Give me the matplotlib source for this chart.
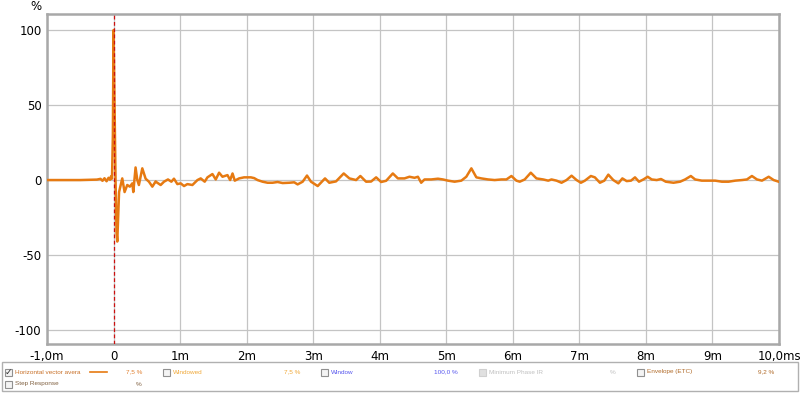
import matplotlib
matplotlib.use("Agg")
import matplotlib.pyplot as plt
from matplotlib.patches import Rectangle

# impulse response (ms, %)
time_ms = [-1.0, -0.5, -0.25, -0.196, -0.166, -0.136, -0.105, -0.075, -0.053, -0.038,
           -0.023, -0.01, 0.0, 0.012, 0.03, 0.045, 0.056, 0.065, 0.083, 0.131,
           0.166, 0.206, 0.245, 0.282, 0.297, 0.331, 0.357, 0.381, 0.432, 0.482,
           0.532, 0.583, 0.633, 0.648, 0.708, 0.758, 0.818, 0.869, 0.908, 0.959,
           1.009, 1.059, 1.110, 1.185, 1.261, 1.310, 1.370, 1.411, 1.486, 1.536,
           1.586, 1.637, 1.712, 1.752, 1.788, 1.822, 1.887, 1.962, 2.063, 2.113,
           2.164, 2.239, 2.315, 2.390, 2.465, 2.541, 2.640, 2.715, 2.766, 2.842,
           2.907, 2.967, 3.068, 3.178, 3.242, 3.343, 3.459, 3.544, 3.645, 3.709,
           3.795, 3.870, 3.946, 4.021, 4.096, 4.197, 4.273, 4.372, 4.447, 4.523,
           4.574, 4.623, 4.673, 4.774, 4.875, 4.950, 5.026, 5.125, 5.226, 5.301,
           5.377, 5.452, 5.527, 5.628, 5.727, 5.828, 5.904, 5.979, 6.054, 6.104,
           6.179, 6.270, 6.355, 6.456, 6.532, 6.581, 6.657, 6.732, 6.807, 6.883,
           6.958, 7.023, 7.083, 7.173, 7.233, 7.309, 7.375, 7.435, 7.510, 7.586,
           7.646, 7.711, 7.776, 7.836, 7.896, 7.962, 8.027, 8.087, 8.163, 8.227,
           8.298, 8.414, 8.514, 8.589, 8.675, 8.740, 8.840, 8.941, 9.041, 9.142,
           9.242, 9.342, 9.443, 9.518, 9.593, 9.669, 9.744, 9.845, 9.920, 9.995]
response_pct = [0.0, 0.0, 0.3, 0.8, -0.5, 1.2, -0.8, 1.5, 0.2, 2.5,
                1.0, 30.0, 100.0, 60.0, 0.0, -35.0, -41.0, -30.0, -8.0, 1.1,
                -8.0, -3.3, -4.4, -2.2, -8.0, 8.4, 0.0, -3.3, 7.8, 0.9,
                -1.1, -4.4, -0.9, -1.5, -3.3, -1.1, 0.4, -1.1, 0.9, -2.7,
                -2.2, -4.0, -2.7, -3.3, 0.0, 1.1, -1.1, 1.8, 4.0, 0.4,
                4.9, 2.2, 3.3, 0.0, 4.4, -0.4, 1.1, 1.8, 1.8, 1.3,
                0.0, -1.1, -1.8, -1.8, -1.3, -2.0, -1.8, -1.5, -2.9, -1.1,
                3.0, -1.1, -4.0, 1.1, -1.8, -0.9, 4.4, 1.1, 0.0, 2.7,
                -1.1, -1.0, 1.8, -1.3, -0.5, 4.4, 1.1, 1.1, 2.2, 1.5,
                2.2, -1.8, 0.4, 0.4, 0.9, 0.4, -0.4, -1.1, -0.4, 2.2,
                7.8, 1.8, 1.1, 0.4, 0.0, 0.4, 0.4, 2.7, -0.4, -1.1,
                0.4, 4.9, 1.1, 0.4, -0.4, 0.4, -0.4, -1.8, 0.0, 2.9,
                0.0, -1.8, -0.4, 2.7, 1.8, -1.8, -0.4, 3.6, 0.0, -2.2,
                1.1, -0.7, -0.4, 1.8, -1.1, 0.4, 2.2, 0.4, 0.0, 0.7,
                -1.1, -1.8, -1.1, 0.4, 2.7, 0.4, -0.4, -0.4, -0.4, -1.1,
                -1.1, -0.4, 0.0, 0.4, 2.7, 0.4, -0.4, 2.2, 0.0, -1.1]

x_ticks = list(range(-1, 11))
x_labels = ["-1,0m", "0", "1m", "2m", "3m", "4m", "5m", "6m", "7m", "8m", "9m", "10,0ms"]
y_ticks = [-100, -50, 0, 50, 100]

plt.rcParams['font.family'] = ['DejaVu Sans']

fig = plt.figure(figsize=(8.0, 3.93), dpi=100)
ax = fig.add_axes([47 / 800, 49 / 393, 732 / 800, 330 / 393])

ax.plot(time_ms, response_pct, color='#e67a12', lw=1.8, solid_joinstyle='round', zorder=3)
ax.axvline(0, color='#cc1010', lw=0.9, ls=(0, (3, 2)), zorder=4)

ax.set_xlim(-1, 10)
ax.set_ylim(-109.3, 110.7)
ax.set_xticks(x_ticks)
ax.set_xticklabels(x_labels, fontsize=8.5)
ax.set_yticks(y_ticks)
ax.set_yticklabels([str(v) for v in y_ticks], fontsize=8.5)
ax.tick_params(length=0, pad=4)
ax.grid(True, color='#c4c4c4', lw=0.9)
ax.set_axisbelow(True)
for s in ax.spines.values():
    s.set_color('#a8a8a8')
    s.set_linewidth(1.8)
fig.text(36 / 800, 1 - 6 / 393, "%", fontsize=8.5, ha='center', va='center')

# legend panel
fig.patches.append(Rectangle((2 / 800, 2 / 393), 796 / 800, 29 / 393, transform=fig.transFigure,
                             fc='white', ec='#b0b0b0', lw=1.0))

LEG_FONT = dict(fontsize=4.6, family=['Liberation Sans', 'DejaVu Sans'], va='center')

def item(x, y, label, color, checked=False, disabled=False):
    ec = '#d0d0d0' if disabled else '#909090'
    fc = '#e0e0e0' if disabled else '#f4f4f4'
    fig.patches.append(Rectangle((x / 800, 1 - (y + 3.5) / 393), 7 / 800, 7 / 393,
                                 transform=fig.transFigure, fc=fc, ec=ec, lw=0.8))
    if checked:
        fig.text((x + 3.5) / 800, 1 - y / 393, "\u2713", fontsize=6.5, ha='center', va='center',
                 color='#303030')
    fig.text((x + 10) / 800, 1 - y / 393, label, color=color, **LEG_FONT)

def value(x, y, txt, color):
    fig.text(x / 800, 1 - y / 393, txt, color=color, ha='right', **LEG_FONT)

item(5, 372, "Horizontal vector avera", '#c87028', checked=True)
fig.add_artist(plt.Line2D([90 / 800, 107 / 800], [1 - 372 / 393] * 2, color='#e67a12', lw=1.2))
value(142, 372, "7,5 %", '#e08030')
item(163, 372, "Windowed", '#f0a838')
value(300, 372, "7,5 %", '#f0a838')
item(321, 372, "Window", '#5555ee')
value(458, 372, "100,0 %", '#5555ee')
item(479, 372, "Minimum Phase IR", '#c0c0c0', disabled=True)
value(616, 372, "%", '#c0c0c0')
item(637, 372, "Envelope (ETC)", '#b06a28')
value(774, 372, "9,2 %", '#b06a28')
item(5, 384, "Step Response", '#806040')
value(142, 384, "%", '#806040')

fig.savefig("out.png", dpi=100)
